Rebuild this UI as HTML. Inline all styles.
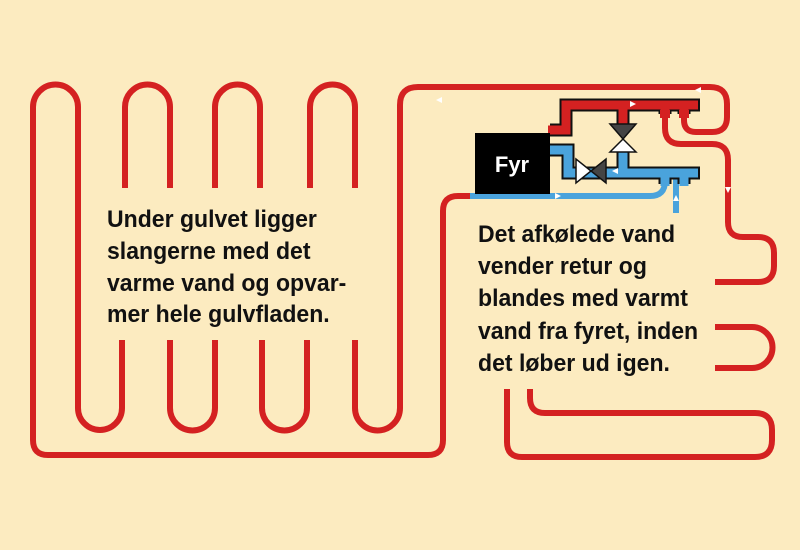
<!DOCTYPE html>
<html><head><meta charset="utf-8"><style>
html,body{margin:0;padding:0;background:#fcebc0;}
svg{display:block}
.t{font-family:"Liberation Sans",sans-serif;font-weight:bold;font-size:24px;fill:#111;}
</style></head><body>
<svg width="800" height="550" viewBox="0 0 800 550" xmlns="http://www.w3.org/2000/svg">
<rect width="800" height="550" fill="#fcebc0"/>
<g fill="none" stroke="#d42121" stroke-width="6" stroke-linecap="butt">
<path d="M470 196 H458 Q443 196 443 211 V440 Q443 455 428 455 H48 Q33 455 33 440 V107 A22.5 22.5 0 0 1 78 107 V408 A22 22 0 0 0 122 408 V340"/>
<path d="M125 188 V107 A22.5 22.5 0 0 1 170 107 V188"/>
<path d="M215 188 V107 A22.5 22.5 0 0 1 260 107 V188"/>
<path d="M310 188 V107 A22.5 22.5 0 0 1 355 107 V188"/>
<path d="M170 340 V408 A22.5 22.5 0 0 0 215 408 V340"/>
<path d="M262 340 V408 A22.5 22.5 0 0 0 307 408 V340"/>
<path d="M355 340 V408 A22.5 22.5 0 0 0 400 408 V105 Q400 87 418 87 H710 Q727 87 727 104 V117 Q727 132 712 132 H696 Q684 132 684 120 V112"/>
<path d="M665 112 V128 Q665 144 681 144 H712 Q728 144 728 160 V222 Q728 237 743 237 H758 Q774 237 774 253 V266 Q774 282 758 282 H715"/>
<path d="M715 327 H752 A20.5 20.5 0 0 1 752 368 H715"/>
<path d="M530 389 V398 Q530 413 545 413 H755 Q772 413 772 430 V440 Q772 457 755 457 H522 Q507 457 507 442 V389"/>
</g>
<g fill="none" stroke="#4aa3dc" stroke-width="6">
<path d="M470 196 H650 Q665 196 665 181 V175"/>
<path d="M676 213 V178"/>
</g>
<g fill="none" stroke="#111" stroke-width="13" stroke-linejoin="miter">
<path d="M550 130 H566 V105 H700"/>
<path d="M665 105 V114 M684 105 V114"/>
<path d="M550 150 H568 V173 H700"/>
<path d="M665 173 V184 M684 173 V184"/>
<path d="M623 105 V125 M623 150 V173"/>
</g>
<g fill="none" stroke="#d42121" stroke-width="9" stroke-linejoin="miter">
<path d="M548 130 H566 V105 H698"/>
<path d="M665 105 V116 M684 105 V116"/>
<path d="M623 105 V127"/>
</g>
<g fill="none" stroke="#4aa3dc" stroke-width="9" stroke-linejoin="miter">
<path d="M548 150 H568 V173 H698"/>
<path d="M665 173 V186 M684 173 V186"/>
<path d="M623 148 V173"/>
</g>
<rect x="660" y="110" width="10" height="8" fill="#d42121"/>
<rect x="679" y="110" width="10" height="8" fill="#d42121"/>
<g stroke="#111" stroke-width="1.5">
<polygon points="610,124 636,124 623,139" fill="#444"/>
<polygon points="610,152 636,152 623,139" fill="#fff"/>
<polygon points="576,159 576,183 591,171" fill="#fff"/>
<polygon points="606,159 606,183 591,171" fill="#444"/>
</g>
<rect x="475" y="133" width="75" height="61" fill="#000"/>
<text x="512" y="172" fill="#fff" font-family="Liberation Sans, sans-serif" font-weight="bold" font-size="22" text-anchor="middle">Fyr</text>
<g fill="#fff">
<polygon points="695,90 701,87 701,93"/>
<polygon points="436,100 442,97 442,103"/>
<polygon points="630,101 636,104 630,107"/>
<polygon points="725,187 731,187 728,193"/>
<polygon points="612,171 618,168 618,174"/>
<polygon points="555,193 561,196 555,199"/>
<polygon points="673,201 679,201 676,195"/>
</g>
<g class="t" transform="translate(107,0) scale(0.96,1)">
<text x="0" y="227">Under gulvet ligger</text>
<text x="0" y="259">slangerne med det</text>
<text x="0" y="291">varme vand og opvar-</text>
<text x="0" y="322">mer hele gulvfladen.</text>
</g>
<g class="t" transform="translate(478,0) scale(0.96,1)">
<text x="0" y="242">Det afkølede vand</text>
<text x="0" y="274">vender retur og</text>
<text x="0" y="306">blandes med varmt</text>
<text x="0" y="339">vand fra fyret, inden</text>
<text x="0" y="371">det løber ud igen.</text>
</g>
</svg>
</body></html>
